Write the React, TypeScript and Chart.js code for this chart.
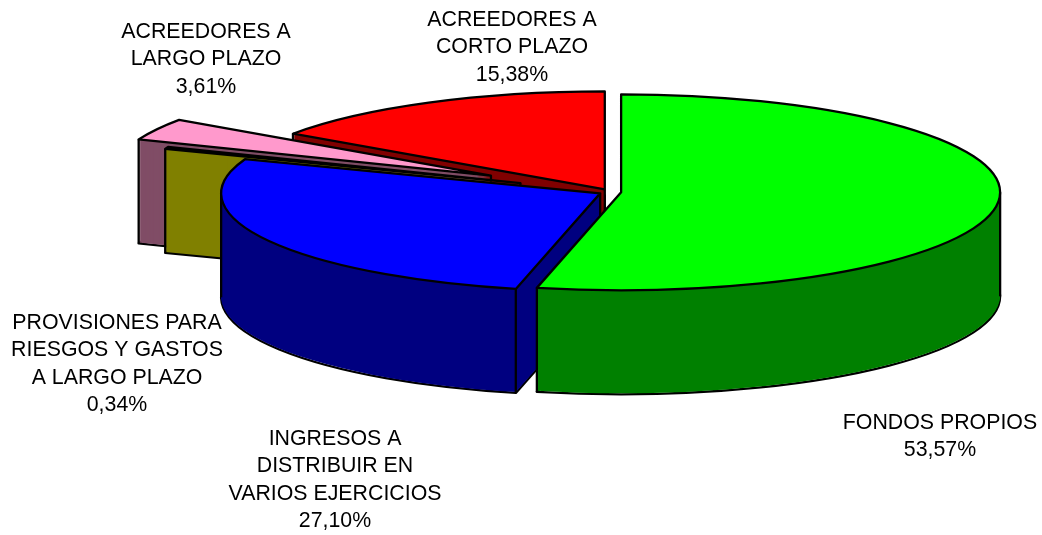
import React, { useEffect, useRef } from "react";
import Chart from "chart.js/auto";

const categories = [
  ["FONDOS PROPIOS"],
  ["INGRESOS A", "DISTRIBUIR EN", "VARIOS EJERCICIOS"],
  ["PROVISIONES PARA", "RIESGOS Y GASTOS", "A LARGO PLAZO"],
  ["ACREEDORES A", "LARGO PLAZO"],
  ["ACREEDORES A", "CORTO PLAZO"],
];
const percentages = [53.57, 27.1, 0.34, 3.61, 15.38];
const explosion = [11.2, 11.2, 96, 135, 11.2];
const topColors = ["#00ff00", "#0000ff", "#ffff00", "#ff99cc", "#ff0000"];
const wallColors = ["#008000", "#000080", "#808000", "#804d66", "#800000"];
const labelCentersX = [940, 335, 117, 206, 512];
const labelTopsY = [423, 439, 323, 32, 20];

const drawOrder = [4, 3, 2, 1, 0];
const RADIUS = 379;
const TILT = 98 / 379;
const DEPTH = 104;
const LINE_HEIGHT = 27.5;
const LINE_WIDTH = 2.3;

const pie3d = {
  id: "pie3d",
  beforeDatasetsDraw(chart: any) {
    const ctx: CanvasRenderingContext2D = chart.ctx;
    const arcs = chart.getDatasetMeta(0).data;

    const place = (arc: any, i: number, drop: number) => {
      const half = (arc.startAngle + arc.endAngle) / 2;
      ctx.translate(arc.x, arc.y + drop);
      ctx.scale(1, TILT);
      ctx.translate(-arc.x, -arc.y);
      ctx.translate(Math.cos(half) * explosion[i], Math.sin(half) * explosion[i]);
    };

    const outline = (arc: any, i: number, drop: number) => {
      ctx.save();
      place(arc, i, drop);
      ctx.beginPath();
      ctx.moveTo(arc.x, arc.y);
      ctx.arc(arc.x, arc.y, arc.outerRadius, arc.startAngle, arc.endAngle);
      ctx.closePath();
      ctx.restore();
      ctx.stroke();
    };

    const paint = (arc: any, i: number, drop: number, color: string) => {
      const saved = arc.options;
      arc.options = { ...saved, backgroundColor: color, borderColor: color, borderWidth: 0 };
      ctx.save();
      place(arc, i, drop);
      arc.draw(ctx);
      ctx.restore();
      arc.options = saved;
    };

    const vertical = (arc: any, i: number, radius: number, angle: number) => {
      const half = (arc.startAngle + arc.endAngle) / 2;
      const ex = Math.cos(half) * explosion[i];
      const ey = Math.sin(half) * explosion[i] * TILT;
      const x = arc.x + ex + Math.cos(angle) * radius;
      const y = arc.y + ey + Math.sin(angle) * radius * TILT;
      // An edge is hidden when the point just below it lies on the slice's own top.
      const dx = x - (arc.x + ex);
      const dy = (y + 2 - (arc.y + ey)) / TILT;
      let a = Math.atan2(dy, dx);
      while (a < arc.startAngle) a += Math.PI * 2;
      const insideTop = Math.hypot(dx, dy) <= radius + 0.01 && radius > 0 && a <= arc.endAngle;
      const insideFromApex = radius === 0 && (() => {
        let b = Math.PI / 2;
        while (b < arc.startAngle) b += Math.PI * 2;
        return b <= arc.endAngle;
      })();
      if (insideTop || insideFromApex) return;
      ctx.beginPath();
      ctx.moveTo(x, y);
      ctx.lineTo(x, y + DEPTH);
      ctx.stroke();
    };

    ctx.save();
    ctx.strokeStyle = "#000000";
    ctx.lineWidth = LINE_WIDTH;
    ctx.lineJoin = "round";
    for (const i of drawOrder) {
      const arc = arcs[i];
      outline(arc, i, DEPTH);
      for (let d = DEPTH - 1; d >= 1; d--) paint(arc, i, d, wallColors[i]);
      vertical(arc, i, 0, 0);
      vertical(arc, i, arc.outerRadius, arc.startAngle + 1e-4);
      vertical(arc, i, arc.outerRadius, arc.endAngle - 1e-4);
      for (const extreme of [0, Math.PI, Math.PI * 2, Math.PI * 3]) {
        if (extreme > arc.startAngle && extreme < arc.endAngle) {
          vertical(arc, i, arc.outerRadius, extreme);
        }
      }
      paint(arc, i, 0, topColors[i]);
      outline(arc, i, 0);
    }
    ctx.restore();
    return false;
  },
  afterDraw(chart: any) {
    const ctx: CanvasRenderingContext2D = chart.ctx;
    ctx.save();
    ctx.fillStyle = "#000000";
    ctx.font = '21.33px "Liberation Sans", Arial, sans-serif';
    ctx.textAlign = "center";
    ctx.textBaseline = "middle";
    categories.forEach((lines, i) => {
      const percent = percentages[i].toFixed(2).replace(".", ",") + "%";
      [...lines, percent].forEach((line, n) => {
        ctx.fillText(line, labelCentersX[i], labelTopsY[i] + n * LINE_HEIGHT);
      });
    });
    ctx.restore();
  },
};

export default function App() {
  const ref = useRef<HTMLCanvasElement>(null);
  useEffect(() => {
    const chart = new Chart(ref.current!, {
      type: "pie",
      data: {
        labels: categories.map((c) => c.join(" ")),
        datasets: [{ data: percentages, backgroundColor: topColors, borderWidth: 0, offset: 0 }],
      },
      options: {
        animation: false,
        responsive: false,
        radius: RADIUS,
        layout: { padding: { left: 178, bottom: 151 } },
        plugins: { legend: { display: false }, tooltip: { enabled: false } },
      } as any,
      plugins: [pie3d as any],
    });
    return () => chart.destroy();
  }, []);
  return (
    <div style={{ position: "fixed", left: 0, top: 0, width: 1042, height: 535, background: "#fff" }}>
      <canvas ref={ref} width={1042} height={535} style={{ display: "block" }} />
    </div>
  );
}
